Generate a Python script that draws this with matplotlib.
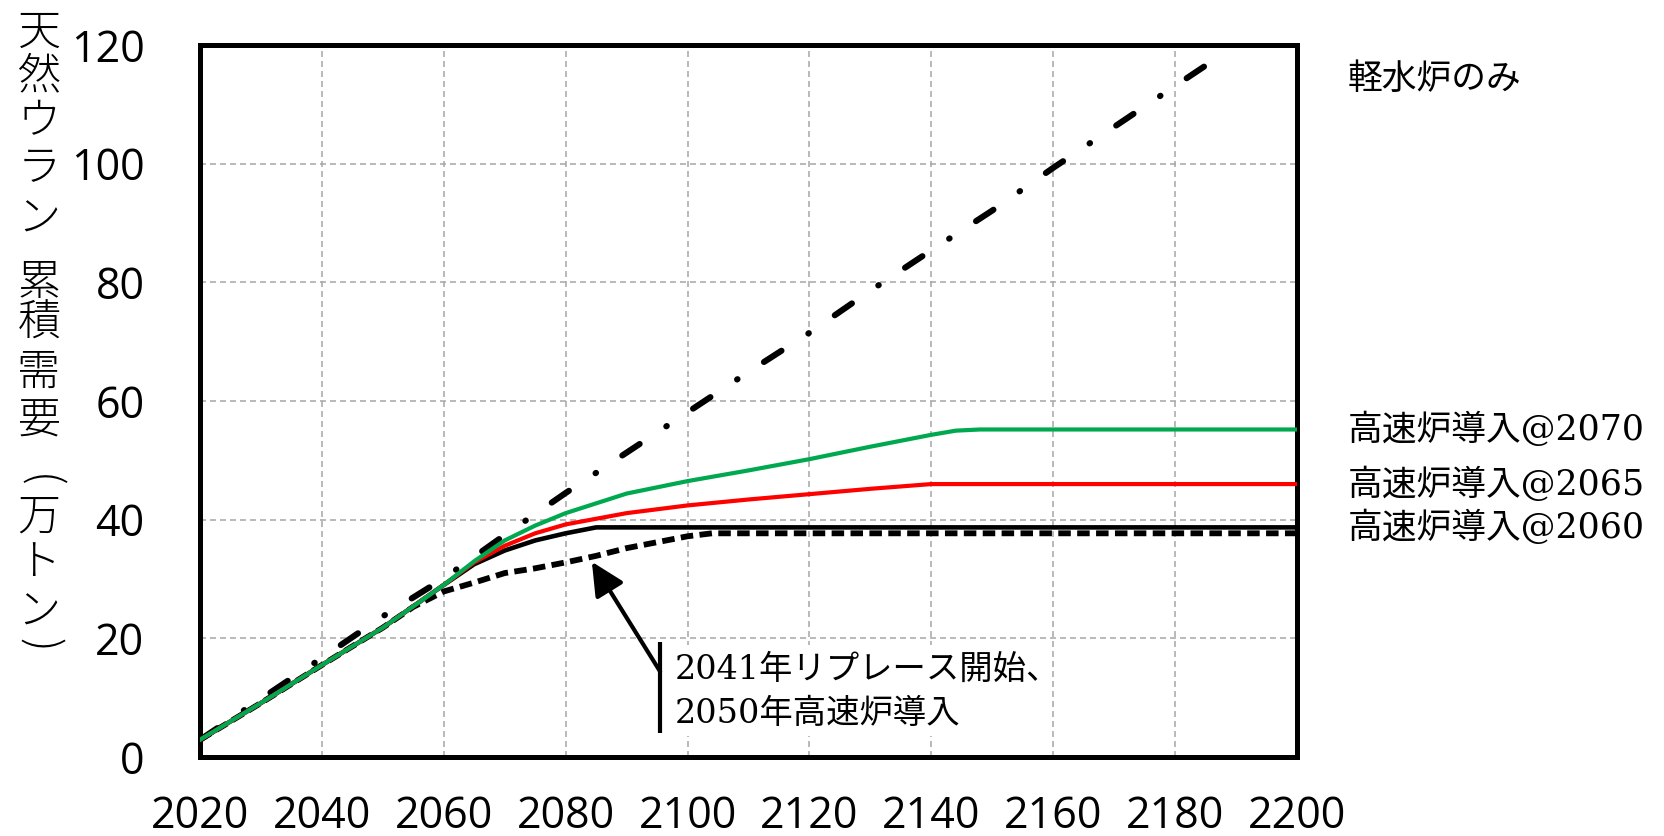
import matplotlib
matplotlib.use("Agg")
import matplotlib.pyplot as plt
from matplotlib.patches import Rectangle

plt.rcParams['lines.scale_dashes'] = False
plt.rcParams['font.family'] = ['Open Sans', 'Noto Sans CJK JP', 'DejaVu Sans']

# ---------------- data ----------------
x_ticks = [2020, 2040, 2060, 2080, 2100, 2120, 2140, 2160, 2180, 2200]
y_ticks = [0, 20, 40, 60, 80, 100, 120]

# vertical writing: the brackets are drawn as rotated parentheses
ylabel_chars = ['天', '然', 'ウ', 'ラ', 'ン', '累', '積', '需', '要', '(', '万', 'ト', 'ン', ')']

lwr_years = [2020, 2030, 2040, 2050, 2060, 2070, 2080, 2090, 2100, 2110,
             2120, 2130, 2140, 2150, 2160, 2170, 2180, 2187]
lwr_vals = [2.9, 9.8, 16.7, 23.7, 30.1, 37.4, 44.5, 51.3, 58.1, 64.9,
            71.5, 78.6, 85.4, 92.1, 99.3, 106.2, 113.1, 117.9]

fr2070_years = [2020, 2030, 2040, 2050, 2060, 2065, 2070, 2075, 2080, 2090,
                2100, 2110, 2120, 2130, 2140, 2144, 2148, 2200]
fr2070_vals = [2.9, 9.1, 15.5, 21.8, 29.0, 33.0, 36.5, 39.0, 41.1, 44.4,
               46.5, 48.3, 50.2, 52.3, 54.3, 55.0, 55.2, 55.2]

fr2065_years = [2020, 2030, 2040, 2050, 2060, 2065, 2070, 2075, 2080, 2090,
                2100, 2110, 2120, 2130, 2140, 2200]
fr2065_vals = [2.9, 9.1, 15.5, 21.8, 29.0, 32.8, 35.6, 37.7, 39.2, 41.1,
               42.4, 43.4, 44.3, 45.2, 46.0, 46.0]

fr2060_years = [2020, 2030, 2040, 2050, 2060, 2065, 2070, 2075, 2080, 2085, 2200]
fr2060_vals = [2.9, 9.1, 15.5, 21.8, 29.0, 32.5, 34.8, 36.5, 37.7, 38.7, 38.7]

fr2050_years = [2020, 2030, 2040, 2050, 2055, 2060, 2065, 2070, 2075, 2080,
                2085, 2090, 2095, 2100, 2104, 2200]
fr2050_vals = [2.9, 9.1, 15.5, 21.8, 25.3, 27.9, 29.4, 31.0, 31.8, 32.8,
               33.9, 35.2, 36.2, 37.2, 37.7, 37.7]

label_lwr = '軽水炉のみ'
label_2070 = '高速炉導入@2070'
label_2065 = '高速炉導入@2065'
label_2060 = '高速炉導入@2060'
note_lines = ['2041年リプレース開始、', '2050年高速炉導入']

# ---------------- figure ----------------
W, H = 1664, 836
fig = plt.figure(figsize=(W / 100, H / 100), dpi=100)
ax = fig.add_axes([200 / W, 1 - 757 / H, 1097 / W, 712 / H])

ax.plot(lwr_years, lwr_vals, color='black', lw=4.4,
        linestyle=(0, (15, 23, 0.4, 22.7)), dash_capstyle='round', zorder=2)
ax.plot(fr2050_years, fr2050_vals, color='black', lw=4.2,
        linestyle=(0, (9.0, 4.6)), zorder=3)
ax.plot(fr2060_years, fr2060_vals, color='black', lw=3.3, zorder=4)
ax.plot(fr2065_years, fr2065_vals, color='#ff0000', lw=3.0, zorder=5)
ax.plot(fr2070_years, fr2070_vals, color='#00a84f', lw=3.0, zorder=6)

ax.set_xlim(2020, 2200)
ax.set_ylim(0, 120)
ax.set_xticks(x_ticks)
ax.set_yticks(y_ticks)
ax.tick_params(axis='both', length=0, labelsize=31, colors='black')
ax.tick_params(axis='x', pad=27)
ax.tick_params(axis='y', pad=40)
ax.grid(True, color='#a6a6a6', linestyle=(0, (4.3, 2.9)), linewidth=1.1)
for s in ax.spines.values():
    s.set_linewidth(3.6)
    s.set_color('black')

# y label (vertical Japanese writing)
ylab_centres = [32, 76, 122, 169, 219, 282, 323, 372, 421, 481, 517, 562, 612, 645]
for ch, yc in zip(ylabel_chars, ylab_centres):
    rot = -90 if ch in '()' else 0
    fig.text(39 / W, 1 - yc / H, ch, fontsize=31, ha='center', va='center',
             rotation=rot, family=['Noto Sans CJK JP'], fontweight='light')

# right-hand labels
fig.text(1348 / W, 1 - 79 / H, label_lwr, fontsize=25, ha='left', va='center',
         family=['Noto Sans CJK JP'])
ytr = ax.get_yaxis_transform()
xr = (1348 - 200) / 1097
for lab, vals in [(label_2070, fr2070_vals), (label_2065, fr2065_vals),
                  (label_2060, fr2060_vals)]:
    ax.text(xr, vals[-1], lab, transform=ytr, fontsize=25, ha='left', va='center',
            family=['DejaVu Serif', 'Noto Sans CJK JP'], clip_on=False)

# annotation
ax.add_patch(Rectangle((2096.3, 3.6), 63.0, 15.3, facecolor='white',
                       edgecolor='none', zorder=7))
ax.plot([2095.5, 2095.5], [4.0, 19.4], color='black', lw=3.0,
        solid_capstyle='butt', zorder=8)
ax.annotate('', xy=(2084.3, 32.9), xytext=(2095.5, 14.4),
            arrowprops=dict(arrowstyle='-|>,head_length=0.45,head_width=0.22',
                            mutation_scale=45, lw=3.0, color='black',
                            shrinkA=0, shrinkB=0), zorder=8)
ax.text(2097.9, 14.7, note_lines[0], fontsize=24, ha='left', va='center',
        family=['DejaVu Serif', 'Noto Sans CJK JP'], zorder=9)
ax.text(2097.9, 7.2, note_lines[1], fontsize=24, ha='left', va='center',
        family=['DejaVu Serif', 'Noto Sans CJK JP'], zorder=9)

fig.savefig('out.png', dpi=100)
